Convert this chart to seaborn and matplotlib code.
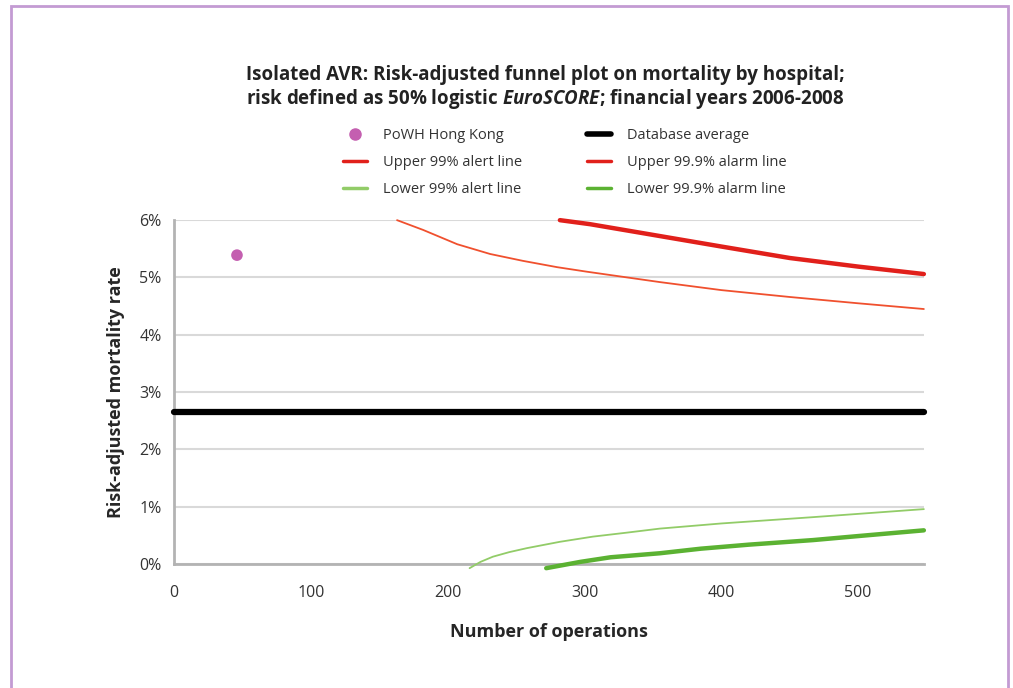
import matplotlib
matplotlib.use("Agg")
import matplotlib.pyplot as plt
import seaborn as sns
from matplotlib.lines import Line2D
from matplotlib.patches import Rectangle
from matplotlib.ticker import FuncFormatter

# Data (rates in %)
hospital_n = [46]
hospital_rate = [5.39]
db_average = 2.65

upper99_n = [163, 182, 207, 231, 255, 280, 302, 355, 400, 450, 500, 548]
upper99_v = [6.0, 5.83, 5.58, 5.41, 5.29, 5.18, 5.10, 4.92, 4.78, 4.66, 4.55, 4.45]
upper999_n = [282, 304, 341, 400, 450, 500, 548]
upper999_v = [6.0, 5.93, 5.78, 5.54, 5.34, 5.19, 5.06]
lower99_n = [216, 224, 233, 245, 258, 282, 306, 331, 355, 400, 467, 548]
lower99_v = [-0.07, 0.04, 0.13, 0.21, 0.28, 0.39, 0.48, 0.55, 0.62, 0.71, 0.82, 0.96]
lower999_n = [272, 297, 319, 355, 385, 420, 467, 500, 548]
lower999_v = [-0.07, 0.04, 0.12, 0.19, 0.27, 0.34, 0.42, 0.49, 0.59]

x_ticks = [0, 100, 200, 300, 400, 500]
y_ticks = [0, 1, 2, 3, 4, 5, 6]

sns.set_style("white")
plt.rcParams['font.family'] = ['Open Sans', 'DejaVu Sans']
plt.rcParams['mathtext.fontset'] = 'custom'
plt.rcParams['mathtext.it'] = 'Open Sans:italic:bold'
plt.rcParams['mathtext.rm'] = 'Open Sans:bold'

fig = plt.figure(figsize=(10.13, 6.88), dpi=100)
ax = fig.add_axes([0.1718, 0.180, 0.7402, 0.500])

c_red_thin = "#f0502e"
c_red = "#e1201b"
c_green_thin = "#92cc68"
c_green = "#5bb232"
c_purple = "#c45fb0"

ax.set_xlim(0, 548)
ax.set_ylim(0, 6)
ax.set_xticks(x_ticks)
ax.set_yticks(y_ticks)
ax.yaxis.set_major_formatter(FuncFormatter(lambda v, p: f"{int(v)}%"))
ax.grid(axis="y", color="#d9d9d9", linewidth=1.5)
ax.set_axisbelow(True)

ax.axhline(db_average, color="black", linewidth=4.5, zorder=3)

sns.lineplot(x=upper99_n, y=upper99_v, ax=ax, color=c_red_thin, linewidth=1.3, zorder=4)
sns.lineplot(x=upper999_n, y=upper999_v, ax=ax, color=c_red, linewidth=3.2, zorder=4)
sns.lineplot(x=lower99_n, y=lower99_v, ax=ax, color=c_green_thin, linewidth=1.3, zorder=4)
sns.lineplot(x=lower999_n, y=lower999_v, ax=ax, color=c_green, linewidth=3.2, zorder=4)
for ln in ax.get_lines():
    ln.set_clip_on(False)
sns.scatterplot(x=hospital_n, y=hospital_rate, ax=ax, color=c_purple, s=70,
                edgecolor="none", zorder=5, clip_on=False)

for s in ["top", "right"]:
    ax.spines[s].set_visible(False)
for s in ["left", "bottom"]:
    ax.spines[s].set_color("#b3b3b3")
    ax.spines[s].set_linewidth(2)
ax.tick_params(axis="both", direction="out", length=5, width=1.5, color="#b3b3b3",
               labelsize=11.5, labelcolor="#333333")
ax.tick_params(axis="x", pad=10)
ax.tick_params(axis="y", pad=4)

ax.set_xlabel("Number of operations", fontsize=13, fontweight="bold", labelpad=16)
ax.set_ylabel("Risk-adjusted mortality rate", fontsize=13, fontweight="bold", labelpad=10)

fig.text(0.538, 0.891, "Isolated AVR: Risk-adjusted funnel plot on mortality by hospital;",
         ha="center", va="center", fontsize=13.5, fontweight="bold", color="#222222")
fig.text(0.538, 0.856, "risk defined as 50% logistic $\\mathit{EuroSCORE}$; financial years 2006-2008",
         ha="center", va="center", fontsize=13.5, fontweight="bold", color="#222222")

handles = [
    Line2D([], [], marker="o", linestyle="none", color=c_purple, markersize=8),
    Line2D([], [], color=c_red, linewidth=2.5),
    Line2D([], [], color=c_green_thin, linewidth=2.5),
    Line2D([], [], color="black", linewidth=4),
    Line2D([], [], color=c_red, linewidth=2.5),
    Line2D([], [], color=c_green, linewidth=2.5),
]
labels = ["PoWH Hong Kong", "Upper 99% alert line", "Lower 99% alert line",
          "Database average", "Upper 99.9% alarm line", "Lower 99.9% alarm line"]
fig.legend(handles, labels, ncol=2, loc="center left", bbox_to_anchor=(0.326, 0.764),
           frameon=False, fontsize=10.5, handlelength=1.65, columnspacing=4.4,
           labelspacing=0.82, handletextpad=1.1, labelcolor="#333333")

fig.patches.append(Rectangle((0.0105, -0.05), 0.9845, 1.041, transform=fig.transFigure,
                             fill=False, edgecolor="#c39bd3", linewidth=2))

fig.savefig("out.png", dpi=100)
